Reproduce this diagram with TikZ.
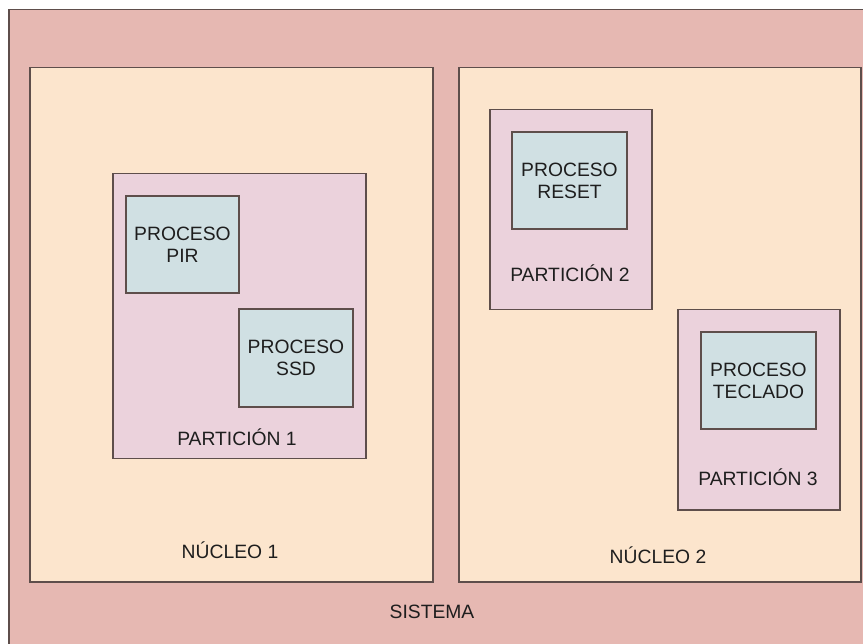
\documentclass[tikz,border=0pt]{standalone}
\usepackage{fontspec}
\setmainfont{Liberation Sans}
\definecolor{sysfill}{HTML}{E6B8B2}
\definecolor{corefill}{HTML}{FCE5CD}
\definecolor{partfill}{HTML}{EBD2DC}
\definecolor{procfill}{HTML}{D0E0E3}
\definecolor{edge}{HTML}{5E4E4B}
\definecolor{ink}{HTML}{1E1E1E}
\tikzset{
  box/.style={draw=edge, line width=1.5pt, rectangle, anchor=north west, inner sep=0pt},
  sysbox/.style={box, fill=sysfill},
  corebox/.style={box, fill=corefill},
  partbox/.style={box, fill=partfill},
  procbox/.style={draw=edge, line width=1.5pt, rectangle, fill=procfill, inner sep=0pt,
    align=center, text=ink, font=\fontsize{19.3}{22}\selectfont},
  lbl/.style={text=ink, font=\fontsize{19.3}{22}\selectfont, inner sep=0pt}
}
\begin{document}
\begin{tikzpicture}[x=1pt,y=-1pt]
\useasboundingbox (0,0) rectangle (863,644);
\fill[white] (0,0) rectangle (863,644);
\begin{scope}
\clip (0,0) rectangle (863,644);
% system frame (runs past the right and bottom edges)
\node[sysbox, minimum width=870pt, minimum height=650pt] (sys) at (8,9) {};
\end{scope}
% cores
\node[corebox, minimum width=403pt, minimum height=514pt] (core1) at (29,67) {};
\node[corebox, minimum width=402pt, minimum height=514pt] (core2) at (458,67) {};
% partitions
\node[partbox, minimum width=253pt, minimum height=285pt] (part1) at (112,173) {};
\node[partbox, minimum width=162pt, minimum height=200pt] (part2) at (489,109) {};
\node[partbox, minimum width=162pt, minimum height=200pt] (part3) at (677,309) {};
% processes
\node[procbox, minimum width=113pt, minimum height=97pt] (pir) at (182.5,244.5) {PROCESO\\PIR};
\node[procbox, minimum width=114pt, minimum height=98pt] (ssd) at (296,358) {PROCESO\\SSD};
\node[procbox, minimum width=115pt, minimum height=97pt] (reset) at (569.5,180.5) {PROCESO\\RESET};
\node[procbox, minimum width=115pt, minimum height=97pt] (teclado) at (758.5,380.5) {PROCESO\\TECLADO};
% labels
\node[lbl] (lp1) at (237,437) {PARTICIÓN 1};
\node[lbl] (lp2) at (570,273) {PARTICIÓN 2};
\node[lbl] (lp3) at (758,477) {PARTICIÓN 3};
\node[lbl] (lc1) at (230,550) {NÚCLEO 1};
\node[lbl] (lc2) at (658,555) {NÚCLEO 2};
\node[lbl] (lsys) at (432,612) {SISTEMA};
\end{tikzpicture}
\end{document}
